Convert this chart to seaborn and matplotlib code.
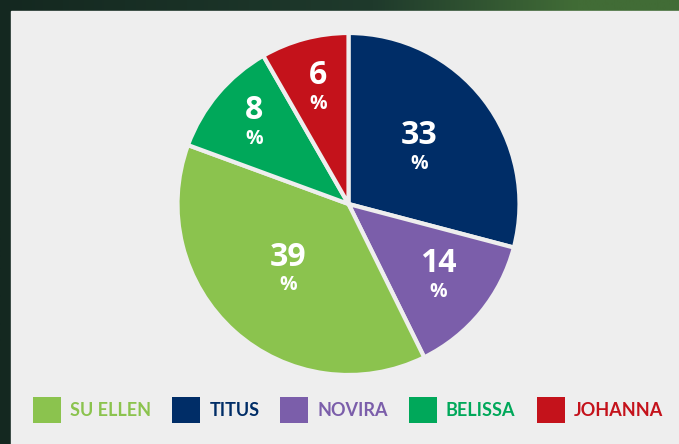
import numpy as np
import matplotlib
matplotlib.use("Agg")
import matplotlib.pyplot as plt
from matplotlib.patches import Rectangle, Patch
import seaborn as sns

# ---- data ----
pie_varieties = ["TITUS", "NOVIRA", "SU ELLEN", "BELISSA", "JOHANNA"]
pie_shares = [29.1, 13.6, 37.9, 11.1, 8.3]          # drawn wedge sizes (%)
pie_labels = [33, 14, 39, 8, 6]                      # printed percentages
legend_order = ["SU ELLEN", "TITUS", "NOVIRA", "BELISSA", "JOHANNA"]

# ---- style ----
colors = {"SU ELLEN": "#8bc34e", "TITUS": "#002d67", "NOVIRA": "#7b5eaa",
          "BELISSA": "#00a85a", "JOHANNA": "#c4121b"}
label_radius = [0.52, 0.68, 0.53, 0.72, 0.69]
panel = "#eeeeee"

sns.set_style("white")
plt.rcParams["font.family"] = ["Lato", "DejaVu Sans"]

W, H = 679, 444
fig = plt.figure(figsize=(W / 100, H / 100), dpi=100)

# background gradient
bg = fig.add_axes([0, 0, 1, 1])
bg.set_axis_off()
c1 = np.array(matplotlib.colors.to_rgb("#142820"))
c2 = np.array(matplotlib.colors.to_rgb("#1f3a2c"))
c3 = np.array(matplotlib.colors.to_rgb("#416c36"))
xs = np.linspace(0, 1, 300)
grad = np.zeros((1, 300, 3))
for i, t in enumerate(xs):
    if t < 0.55:
        grad[0, i] = c1 + (c2 - c1) * (t / 0.55)
    else:
        tt = (t - 0.55) / 0.45
        grad[0, i] = c2 + (c3 - c2) * min(1, tt * 1.5)
bg.imshow(grad, aspect="auto", extent=[0, 1, 0, 1])
bg.set_xlim(0, 1)
bg.set_ylim(0, 1)
bg.add_patch(Rectangle((11 / W, 0), 1, 1 - 11 / H, color=panel, transform=bg.transAxes))

# pie axes
cx, cy, r = 348.5, 204, 171
ax = fig.add_axes([(cx - r) / W, (H - cy - r) / H, 2 * r / W, 2 * r / H])
ax.set_axis_off()
wedges, _ = ax.pie(pie_shares, colors=[colors[v] for v in pie_varieties],
                   startangle=90, counterclock=False,
                   wedgeprops=dict(edgecolor=panel, linewidth=3))
ax.set_xlim(-1, 1)
ax.set_ylim(-1, 1)
ax.set_aspect("equal")

for w, lab, rr in zip(wedges, pie_labels, label_radius):
    ang = np.deg2rad((w.theta1 + w.theta2) / 2)
    x, y = rr * np.cos(ang), rr * np.sin(ang)
    ax.annotate(str(lab), (x, y), xytext=(0, 14), textcoords="offset pixels",
                ha="center", va="center", color="white", fontsize=23,
                fontweight="bold", family=["Open Sans", "DejaVu Sans"])
    ax.annotate("%", (x, y), xytext=(0, -14), textcoords="offset pixels",
                ha="center", va="center", color="white", fontsize=14,
                fontweight="bold", family=["Open Sans", "DejaVu Sans"])

fs = 13
px = fs * 100 / 72
handles = [Patch(facecolor=colors[v], edgecolor="none", label=v) for v in legend_order]
leg = fig.legend(handles=handles, loc="center", bbox_to_anchor=(348 / W, 34 / H),
                 ncol=5, frameon=False, fontsize=fs, handlelength=28 / px,
                 handleheight=34 / px, handletextpad=9 / px, columnspacing=21 / px,
                 borderaxespad=0, borderpad=0)
for t, v in zip(leg.get_texts(), legend_order):
    t.set_color(colors[v])
    t.set_fontweight("bold")

fig.savefig("out.png", dpi=100)
